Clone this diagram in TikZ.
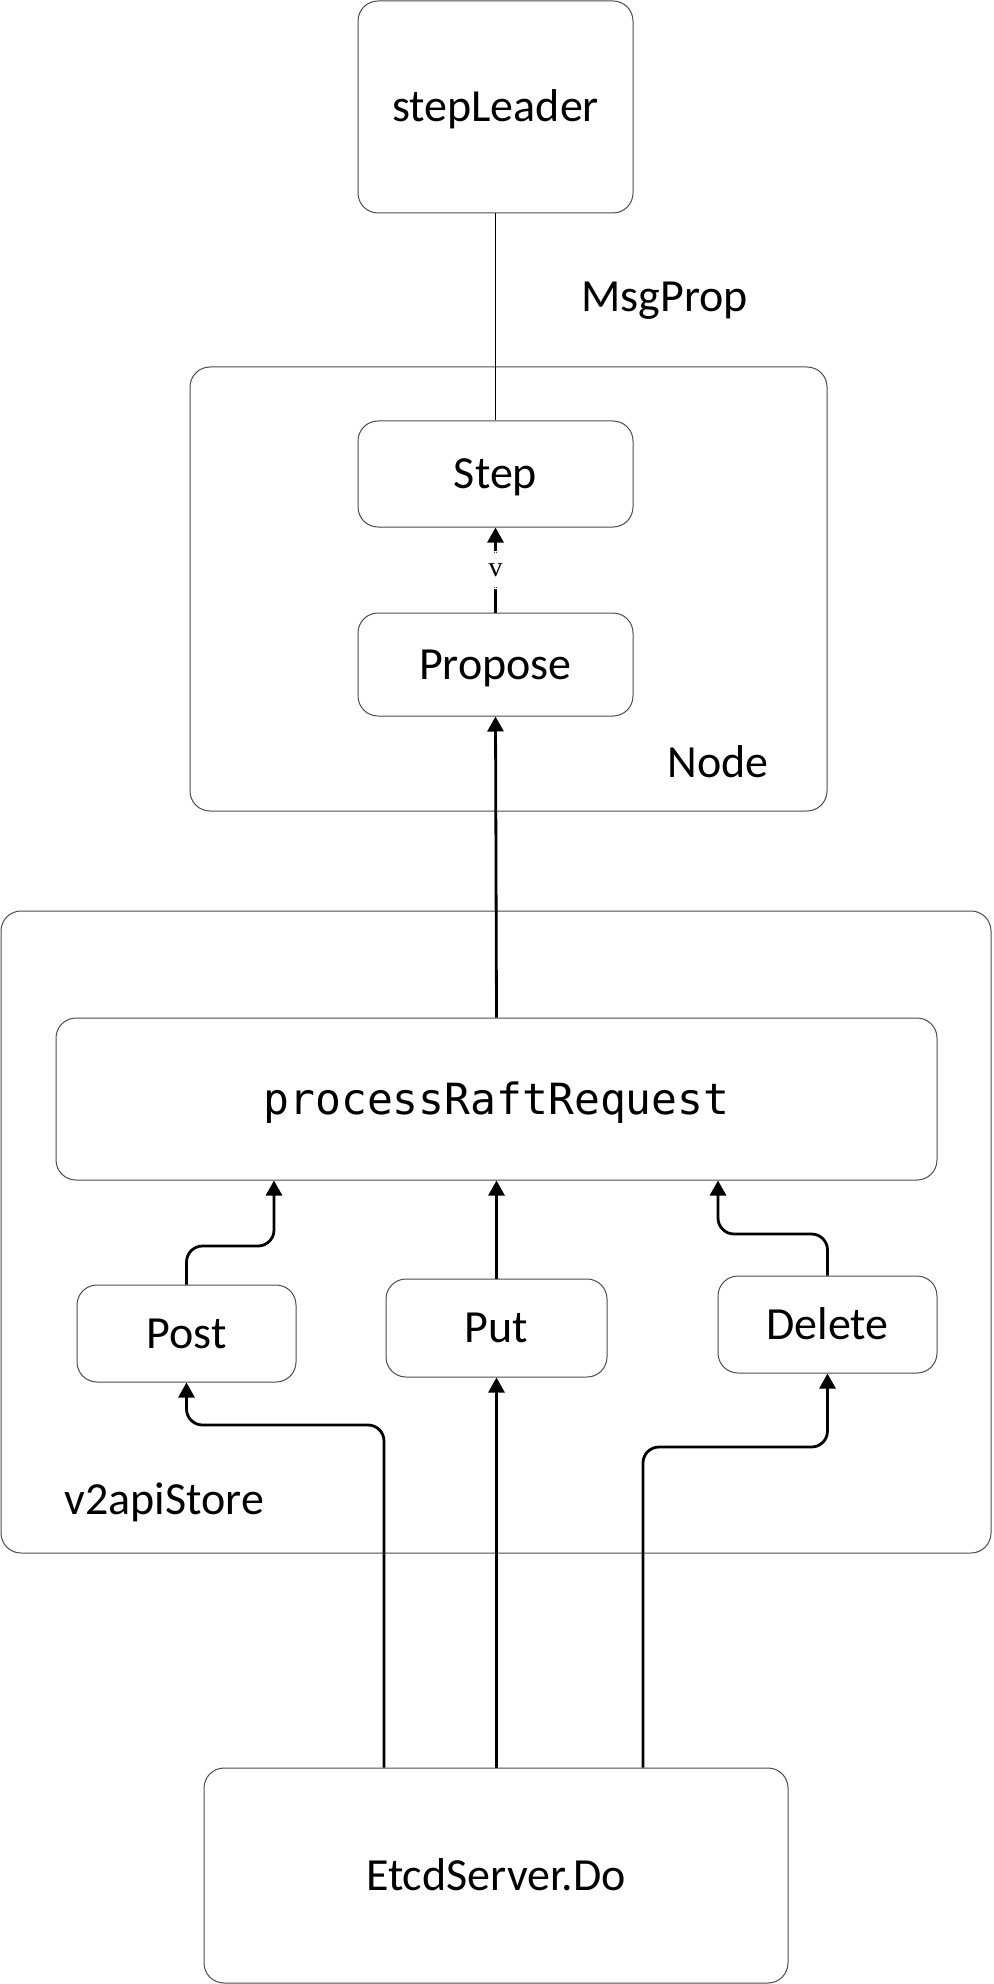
\documentclass[tikz,border=0pt]{standalone}
\usepackage{fontspec}
\setmainfont{Carlito}
\newfontfamily\monofont{DejaVu Sans Mono}
\newfontfamily\vfont{Liberation Serif}
\usetikzlibrary{arrows.meta}
\tikzset{
  box/.style={draw=black!70, line width=0.5pt, rounded corners=10pt, inner sep=0pt,
    font=\fontsize{23}{27}\selectfont, text height=14.8pt, text depth=0pt, align=center},
  frame/.style={draw=black!70, line width=0.5pt, rounded corners=10pt, inner sep=0pt},
  lbl/.style={inner sep=0pt, anchor=base west, font=\fontsize{23}{27}\selectfont},
  arr/.style={line width=1.4pt, -{Triangle[length=7.5pt,width=8pt]}, rounded corners=8pt},
  thin/.style={line width=0.5pt},
  vlabel/.style={fill=white, inner sep=0pt, minimum height=19pt, minimum width=9pt,
    font=\vfont\fontsize{14}{16}\selectfont}
}
\begin{document}
\begin{tikzpicture}[x=0.5pt, y=-0.5pt]
\useasboundingbox (0,0) rectangle (993,1984);
% containers
\node[frame, minimum width=318.5pt, minimum height=222pt] (nodebox) at (508.5,589) {};
\node[frame, minimum width=495pt, minimum height=321pt] (store) at (496,1232) {};
% boxes
\node[box, minimum width=137.5pt, minimum height=106pt] (sl) at (495.5,107) {stepLeader};
\node[box, minimum width=137.5pt, minimum height=53pt] (step) at (495.5,474) {Step};
\node[box, minimum width=137.5pt, minimum height=51.5pt] (propose) at (495.5,664.5) {Propose};
\node[box, minimum width=440.5pt, minimum height=81pt, font=\monofont\fontsize{21.5}{26}\selectfont, text height=15.7pt] (prr) at (496.5,1099) {processRaftRequest};
\node[box, minimum width=109.5pt, minimum height=48.5pt] (post) at (186.5,1333.5) {Post};
\node[box, minimum width=110.5pt, minimum height=49pt] (put) at (496.5,1328) {Put};
\node[box, minimum width=109.5pt, minimum height=48.5pt] (delete) at (827.5,1324.5) {Delete};
\node[box, minimum width=292pt, minimum height=107.5pt] (etcd) at (496,1875.5) {EtcdServer.Do};
% labels
\node[lbl] (msgprop) at (581,312) {MsgProp};
\node[lbl] (nodelbl) at (667,777) {Node};
\node[lbl] (storelbl) at (64,1514) {v2apiStore};
% helper coordinates
\coordinate (xpostin) at (274,0);
\coordinate (ypostin) at (0,1246);
\coordinate (xdelin) at (718,0);
\coordinate (ydelin) at (0,1234);
\coordinate (xeL) at (384,0);
\coordinate (yeL) at (0,1425);
\coordinate (xeR) at (643,0);
\coordinate (yeR) at (0,1447);
% connectors
\draw[thin] (sl.south) -- (step.north);
\draw[arr] (propose.north) -- node[vlabel] (vl) {v} (step.south);
\draw[arr] (prr.north) -- (propose.south);
\draw[arr] (post.north) -- (post.north |- ypostin) -- (xpostin |- ypostin) -- (xpostin |- prr.south);
\draw[arr] (put.north) -- (put.north |- prr.south);
\draw[arr] (delete.north) -- (delete.north |- ydelin) -- (xdelin |- ydelin) -- (xdelin |- prr.south);
\draw[arr] (etcd.north -| xeL) -- (xeL |- yeL) -- (post.south |- yeL) -- (post.south);
\draw[arr] (etcd.north -| put.south) -- (put.south);
\draw[arr] (etcd.north -| xeR) -- (xeR |- yeR) -- (delete.south |- yeR) -- (delete.south);
\end{tikzpicture}
\end{document}
